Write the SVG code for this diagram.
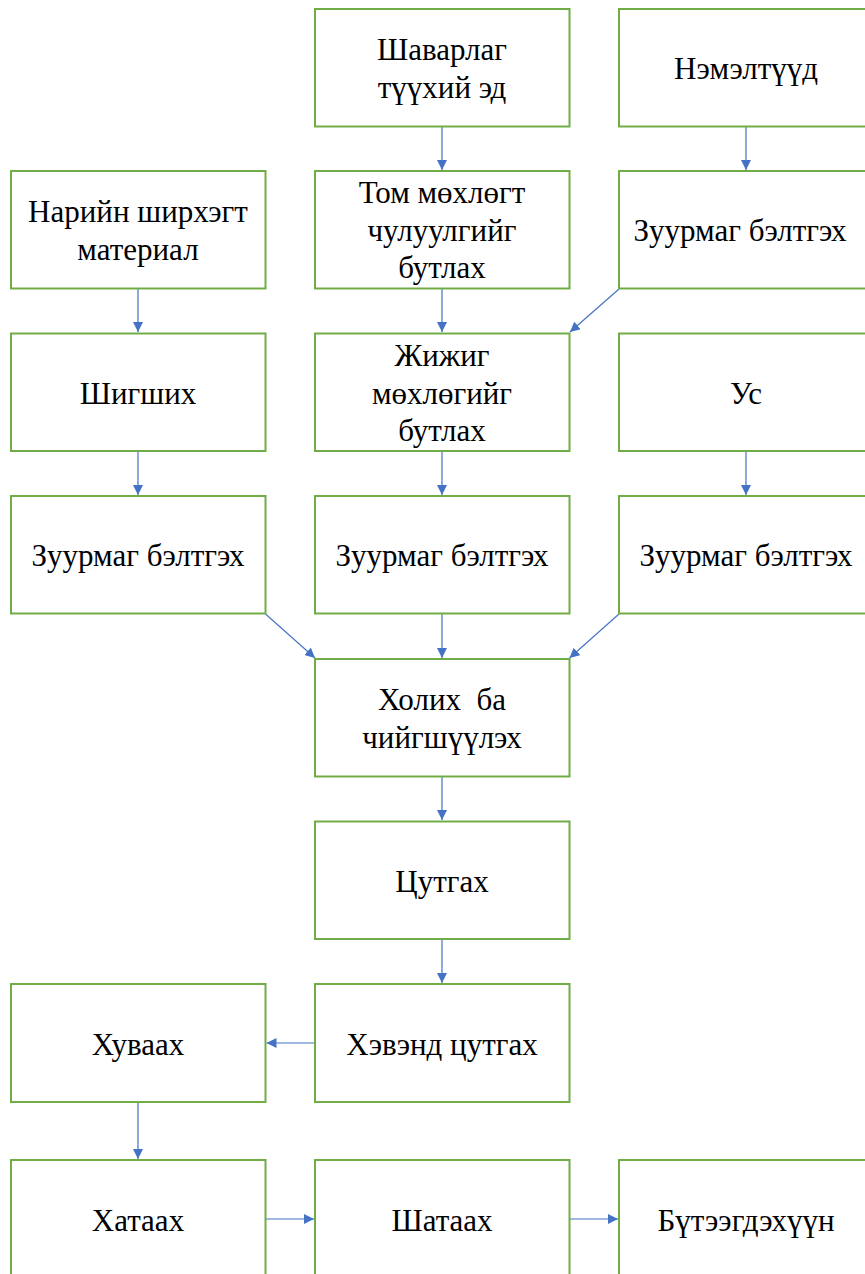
<svg xmlns="http://www.w3.org/2000/svg" width="865" height="1274" viewBox="0 0 865 1274">
<style>
.box{fill:#fff;stroke:#70AD47;stroke-width:2}
.c{stroke:#4472C4;stroke-width:1.2;fill:none;marker-end:url(#ah)}
.t{font-family:'Liberation Serif','Times New Roman',serif;font-size:31px;text-anchor:middle;fill:#000}
</style>
<defs>
<marker id="ah" viewBox="0 0 10 10" refX="10" refY="5" markerWidth="10" markerHeight="10" markerUnits="userSpaceOnUse" orient="auto">
<path d="M0,0 L10,5 L0,10 z" fill="#4472C4"/>
</marker>
</defs>
<rect width="865" height="1274" fill="#fff"/>
<g id="connectors">
<line class="c" x1="442" y1="127" x2="442" y2="170"/>
<line class="c" x1="746" y1="127" x2="746" y2="170"/>
<line class="c" x1="138" y1="289" x2="138" y2="332"/>
<line class="c" x1="442" y1="289" x2="442" y2="332"/>
<line class="c" x1="619" y1="289" x2="570" y2="332"/>
<line class="c" x1="138" y1="451" x2="138" y2="495"/>
<line class="c" x1="442" y1="451" x2="442" y2="495"/>
<line class="c" x1="746" y1="451" x2="746" y2="495"/>
<line class="c" x1="265.5" y1="614" x2="315" y2="658"/>
<line class="c" x1="442" y1="614" x2="442" y2="658"/>
<line class="c" x1="619" y1="614" x2="569.5" y2="658"/>
<line class="c" x1="442" y1="777" x2="442" y2="820"/>
<line class="c" x1="442" y1="939" x2="442" y2="983"/>
<line class="c" x1="315" y1="1043" x2="266.5" y2="1043"/>
<line class="c" x1="138" y1="1102" x2="138" y2="1159"/>
<line class="c" x1="265.5" y1="1219" x2="314" y2="1219"/>
<line class="c" x1="569.5" y1="1219" x2="618" y2="1219"/>
</g>
<g id="nodes">
<g id="n1"><rect class="box" x="315" y="9" width="254.5" height="117.5"/><text class="t" x="442" y="60">Шаварлаг</text><text class="t" x="442" y="97.5">түүхий эд</text></g>
<g id="n2"><rect class="box" x="619" y="9" width="254.5" height="117.5"/><text class="t" x="746" y="79">Нэмэлтүүд</text></g>
<g id="n3"><rect class="box" x="11" y="171" width="254.5" height="117.5"/><text class="t" x="138" y="222">Нарийн ширхэгт</text><text class="t" x="138" y="259.5">материал</text></g>
<g id="n4"><rect class="box" x="315" y="171" width="254.5" height="117.5"/><text class="t" x="442" y="203">Том мөхлөгт</text><text class="t" x="442" y="240.5">чулуулгийг</text><text class="t" x="442" y="278">бутлах</text></g>
<g id="n5"><rect class="box" x="619" y="171" width="254.5" height="117.5"/><text class="t" x="740" y="241">Зуурмаг бэлтгэх</text></g>
<g id="n6"><rect class="box" x="11" y="333.5" width="254.5" height="117.5"/><text class="t" x="138" y="403.5">Шигших</text></g>
<g id="n7"><rect class="box" x="315" y="333.5" width="254.5" height="117.5"/><text class="t" x="442" y="366">Жижиг</text><text class="t" x="442" y="403.5">мөхлөгийг</text><text class="t" x="442" y="441">бутлах</text></g>
<g id="n8"><rect class="box" x="619" y="333.5" width="254.5" height="117.5"/><text class="t" x="746" y="403.5">Ус</text></g>
<g id="n9"><rect class="box" x="11" y="496" width="254.5" height="117.5"/><text class="t" x="138" y="566">Зуурмаг бэлтгэх</text></g>
<g id="n10"><rect class="box" x="315" y="496" width="254.5" height="117.5"/><text class="t" x="442" y="566">Зуурмаг бэлтгэх</text></g>
<g id="n11"><rect class="box" x="619" y="496" width="254.5" height="117.5"/><text class="t" x="746" y="566">Зуурмаг бэлтгэх</text></g>
<g id="n12"><rect class="box" x="315" y="659" width="254.5" height="117.5"/><text class="t" x="442" y="710">Холих&#160; ба</text><text class="t" x="442" y="747.5">чийгшүүлэх</text></g>
<g id="n13"><rect class="box" x="315" y="821.5" width="254.5" height="117.5"/><text class="t" x="442" y="891.5">Цутгах</text></g>
<g id="n14"><rect class="box" x="11" y="984" width="254.5" height="118"/><text class="t" x="138" y="1054.5">Хуваах</text></g>
<g id="n15"><rect class="box" x="315" y="984" width="254.5" height="118"/><text class="t" x="442" y="1054.5">Хэвэнд цутгах</text></g>
<g id="n16"><rect class="box" x="11" y="1160" width="254.5" height="118"/><text class="t" x="138" y="1230.5">Хатаах</text></g>
<g id="n17"><rect class="box" x="315" y="1160" width="254.5" height="118"/><text class="t" x="442" y="1230.5">Шатаах</text></g>
<g id="n18"><rect class="box" x="619" y="1160" width="254.5" height="118"/><text class="t" x="746" y="1230.5">Бүтээгдэхүүн</text></g>
</g>
</svg>
